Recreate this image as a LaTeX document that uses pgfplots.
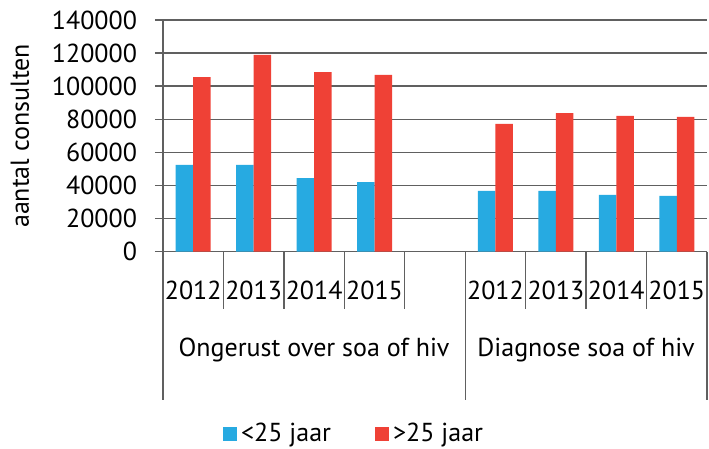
\documentclass[border=0pt]{standalone}
\usepackage{pgfplots}
\pgfplotsset{compat=1.18}
\usepackage{fontspec}
\setmainfont{PT Sans}
\definecolor{cblue}{RGB}{39,170,225}
\definecolor{cred}{RGB}{239,65,54}
\definecolor{cgrid}{RGB}{96,96,96}
\newcommand{\cf}{\fontsize{13}{15}\selectfont}
\begin{document}
\begin{tikzpicture}
\useasboundingbox (0,0) rectangle (354.5pt,224.5pt);
\begin{axis}[
 at={(81.5pt,98.65pt)}, anchor=south west,
 scale only axis, width=272pt, height=115.85pt,
 xmin=-0.5, xmax=8.5, ymin=0, ymax=140000,
 ybar=0pt, bar width=8.75pt,
 clip=false,
 axis lines=left, axis line style={cgrid, line width=0.7pt, -},
 ymajorgrids, grid style={cgrid, line width=0.7pt},
 ytick={0,20000,...,140000},
 scaled y ticks=false,
 yticklabel={\pgfmathprintnumber[fixed,1000 sep={},assume math mode=true]{\tick}},
 xtick={0,1,2,3,5,6,7,8},
 xticklabels={2012,2013,2014,2015,2012,2013,2014,2015},
 x tick style={draw=none},
 y tick style={cgrid, line width=0.7pt},
 tick align=outside, major tick length=4pt,
 tick label style={font=\cf},
 yticklabel style={xshift=-5.5pt},
 xticklabel style={anchor=center, yshift=-15.5pt},
 ylabel={aantal consulten},
 ylabel style={font=\cf, at={(axis description cs:-0.263,0.5)}, anchor=center},
 legend style={at={(0.353,0)}, anchor=center, yshift=-91pt, draw=none, font=\cf,
   legend columns=2, /tikz/every even column/.append style={column sep=20pt}},
 legend image code/.code={\fill[#1] (0pt,-3.5pt) rectangle (7pt,3.5pt);},
]
\addplot[fill=cblue, draw=none] coordinates {(0,52500) (1,52500) (2,44500) (3,42000) (5,36700) (6,36700) (7,34300) (8,33700)};
\addplot[fill=cred, draw=none] coordinates {(0,105500) (1,119000) (2,108500) (3,106800) (5,77200) (6,83800) (7,82000) (8,81400)};
\legend{<25 jaar, >25 jaar}
\draw[cgrid, line width=0.7pt] (axis cs:-0.5,0) -- ++(0pt,-74.15pt);
\draw[cgrid, line width=0.7pt] (axis cs:4.5,0) -- ++(0pt,-74.15pt);
\draw[cgrid, line width=0.7pt] (axis cs:8.5,0) -- ++(0pt,-74.15pt);
\draw[cgrid, line width=0.7pt] (axis cs:0.5,0) -- ++(0pt,-28.65pt);
\draw[cgrid, line width=0.7pt] (axis cs:1.5,0) -- ++(0pt,-28.65pt);
\draw[cgrid, line width=0.7pt] (axis cs:2.5,0) -- ++(0pt,-28.65pt);
\draw[cgrid, line width=0.7pt] (axis cs:3.5,0) -- ++(0pt,-28.65pt);
\draw[cgrid, line width=0.7pt] (axis cs:5.5,0) -- ++(0pt,-28.65pt);
\draw[cgrid, line width=0.7pt] (axis cs:6.5,0) -- ++(0pt,-28.65pt);
\draw[cgrid, line width=0.7pt] (axis cs:7.5,0) -- ++(0pt,-28.65pt);
\node[font=\cf, yshift=-49pt] at (axis cs:2,0) {Ongerust over soa of hiv};
\node[font=\cf, yshift=-49pt] at (axis cs:6.5,0) {Diagnose soa of hiv};
\end{axis}
\end{tikzpicture}
\end{document}
